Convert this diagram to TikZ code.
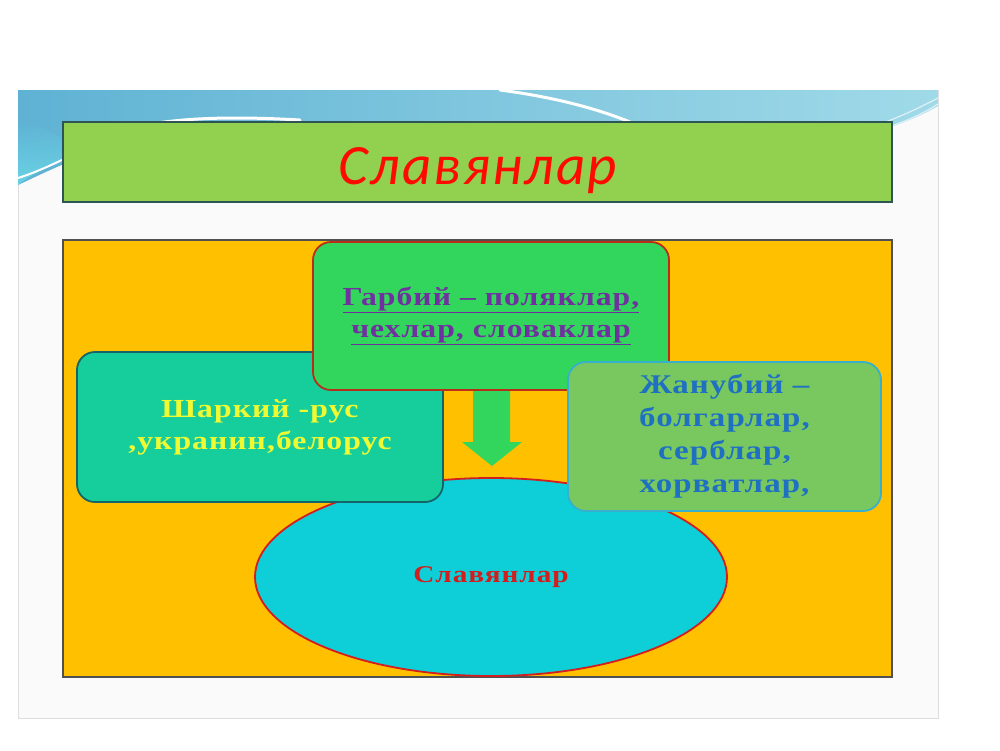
\documentclass[tikz,border=0pt]{standalone}
\usepackage{fontspec}
\setmainfont{Liberation Serif}
\newfontfamily\titlefont[LetterSpace=4]{Carlito}
\newfontfamily\boxfont[FakeStretch=1.22,LetterSpace=4]{Liberation Serif}
\usetikzlibrary{shapes.geometric}
\definecolor{slidebg}{RGB}{250,250,250}
\definecolor{slideedge}{RGB}{222,222,222}
\definecolor{waveA}{RGB}{95,178,212}
\definecolor{waveB}{RGB}{160,218,232}
\definecolor{waveC}{RGB}{110,225,235}
\definecolor{titlegreen}{RGB}{146,208,80}
\definecolor{titleedge}{RGB}{45,85,85}
\definecolor{orangebg}{RGB}{255,192,0}
\definecolor{orangeedge}{RGB}{80,80,80}
\definecolor{topgreen}{RGB}{50,214,92}
\definecolor{darkred}{RGB}{185,45,25}
\definecolor{tealbox}{RGB}{22,206,156}
\definecolor{tealedge}{RGB}{20,100,105}
\definecolor{rightgreen}{RGB}{120,200,95}
\definecolor{rightedge}{RGB}{55,175,205}
\definecolor{ellfill}{RGB}{14,206,216}
\definecolor{ellred}{RGB}{210,30,30}
\definecolor{purpletext}{RGB}{112,48,160}
\definecolor{bluetext}{RGB}{31,112,195}
\definecolor{yellowtext}{RGB}{240,250,50}
\definecolor{redtext}{RGB}{255,10,0}
\definecolor{arrowgreen}{RGB}{50,214,92}
\tikzset{
  roundbox/.style={draw, rounded corners=18pt, line width=1.8pt, inner sep=0pt, align=center, font=\boxfont\bfseries\fontsize{26}{32}\selectfont},
  plainbar/.style={draw, line width=1.5pt, inner sep=0pt},
}
\begin{document}
\begin{tikzpicture}[x=1pt,y=-1pt]
\useasboundingbox (0,0) rectangle (1000,750);
\fill[white] (0,0) rectangle (1000,750);
% slide
\draw[slideedge, fill=slidebg, line width=1pt] (18,90) rectangle (938,718);
% wave decoration
\shade[left color=waveA, right color=waveB]
  (18,90) -- (938,90) -- (938,106)
  .. controls (910,122) and (880,132) .. (850,135)
  -- (150,135)
  .. controls (90,150) and (50,170) .. (18,185) -- cycle;
\shade[top color=waveA, bottom color=waveC, opacity=0.7]
  (18,120) .. controls (40,125) and (60,135) .. (80,150)
  .. controls (50,165) and (30,175) .. (18,185) -- cycle;
\draw[white, line width=3pt, line cap=round] (500,90) .. controls (560,98) and (600,110) .. (630,122);
\draw[white, line width=2pt, line cap=round] (18,178) .. controls (50,168) and (80,150) .. (130,128);
\draw[white, line width=3pt, line cap=round] (140,126) .. controls (180,118) and (230,116) .. (300,120);
\draw[white!80!waveA, line width=1.2pt] (860,130) .. controls (890,122) and (915,110) .. (938,98);
\draw[white!80!waveA, line width=1.2pt] (870,132) .. controls (895,126) and (920,116) .. (938,104);
% title bar
\node[plainbar, draw=titleedge, fill=titlegreen, minimum width=829pt, minimum height=80pt] (title) at (477.5,162) {};
\node[text=redtext, font=\titlefont\itshape\fontsize{57}{62}\selectfont] (titletext) at (478,171) {Славянлар};
% orange panel
\node[plainbar, draw=orangeedge, fill=orangebg, minimum width=829pt, minimum height=437pt] (panel) at (477.5,458.5) {};
% ellipse
\node[ellipse, draw=ellred, line width=1.8pt, fill=ellfill, minimum width=472pt, minimum height=198pt, inner sep=0pt,
  text=ellred, font=\boxfont\bfseries\fontsize{24}{28}\selectfont] (ell) at (491,577) {Славянлар};
% arrow
\coordinate (a1) at (473,391);
\coordinate (a2) at (510,391);
\coordinate (a3) at (510,442);
\coordinate (a4) at (522,442);
\coordinate (tip) at (492,466);
\coordinate (a6) at (462,442);
\coordinate (a7) at (473,442);
\fill[arrowgreen] (a1) -- (a2) -- (a3) -- (a4) -- (tip) -- (a6) -- (a7) -- cycle;
% left box
\node[roundbox, draw=tealedge, fill=tealbox, text=yellowtext, minimum width=366pt, minimum height=150pt] (east) at (260,427)
  {\raisebox{-2pt}{\parbox{360pt}{\centering Шаркий -рус\\,укранин,белорус}}};
% top box
\node[roundbox, draw=darkred, fill=topgreen, text=purpletext, minimum width=356pt, minimum height=148pt] (west) at (491,316)
  {\underline{Гарбий – поляклар,}\\\underline{чехлар, словаклар}};
% right box
\node[roundbox, draw=rightedge, fill=rightgreen, text=bluetext, minimum width=313pt, minimum height=149pt,
  font=\boxfont\bfseries\fontsize{27}{33}\selectfont] (south) at (724.5,436.5)
  {Жанубий –\\болгарлар,\\серблар,\\хорватлар,};
\end{tikzpicture}
\end{document}
